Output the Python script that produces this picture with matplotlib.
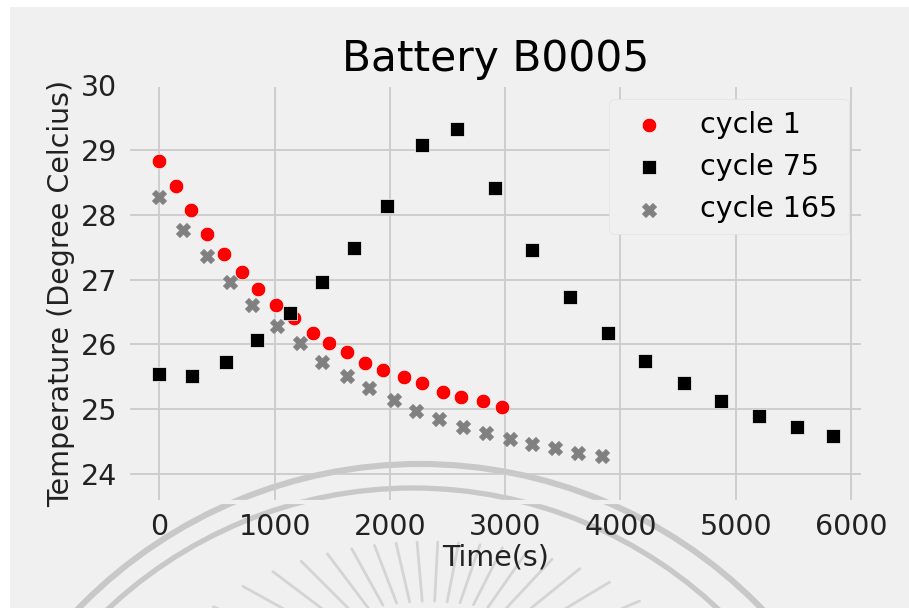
import numpy as np
import matplotlib
matplotlib.use("Agg")
import matplotlib.pyplot as plt
from matplotlib.patches import Arc, Rectangle

# temperature readings of battery B0005 for three discharge cycles
time_c1 = [0, 142, 272, 416, 561, 720, 853, 1012, 1166, 1333,
           1469, 1624, 1781, 1940, 2121, 2277, 2461, 2620, 2805, 2972]
temp_c1 = [28.83, 28.45, 28.08, 27.70, 27.39, 27.12, 26.86, 26.60, 26.41, 26.18,
           26.02, 25.88, 25.72, 25.61, 25.49, 25.40, 25.27, 25.19, 25.13, 25.04]

time_c75 = [0, 286, 574, 848, 1137, 1411, 1686, 1974, 2277, 2580,
            2909, 3235, 3561, 3890, 4216, 4548, 4874, 5206, 5532, 5847]
temp_c75 = [25.55, 25.52, 25.73, 26.07, 26.48, 26.97, 27.48, 28.13, 29.08, 29.32,
            28.41, 27.45, 26.73, 26.17, 25.75, 25.40, 25.12, 24.89, 24.73, 24.59]

time_c165 = [0, 205, 416, 609, 805, 1019, 1216, 1411, 1625, 1821,
             2032, 2225, 2422, 2632, 2831, 3039, 3229, 3431, 3628, 3842]
temp_c165 = [28.27, 27.77, 27.36, 26.97, 26.60, 26.29, 26.02, 25.73, 25.52, 25.33,
             25.15, 24.98, 24.85, 24.73, 24.64, 24.54, 24.47, 24.40, 24.33, 24.28]

plt.style.use("fivethirtyeight")
plt.rcParams["font.family"] = ["DejaVu Sans"]

W, H = 909, 608
fig = plt.figure(figsize=(W / 100, H / 100), dpi=100, facecolor="white")
fig.patches.append(Rectangle((10 / W, 0), 1, 1 - 7 / H, transform=fig.transFigure,
                             facecolor="#f0f0f0", edgecolor="none", zorder=-10))

# faint logo stamped behind the plot
wm = fig.add_axes([0, 0, 1, 1], zorder=0)
wm.set_xlim(0, W)
wm.set_ylim(H, 0)
wm.axis("off")
wm.patch.set_visible(False)
wm_col = "#c8c8c8"
wm.add_patch(Arc((420, 940), 2 * 476, 2 * 476, theta1=180, theta2=360,
                 color=wm_col, lw=4.4))
wm.add_patch(Arc((413, 933), 2 * 445, 2 * 445, theta1=180, theta2=360,
                 color=wm_col, lw=3.8))
cx, cy = 430, 690
for ang in np.arange(23, 160, 8):
    t = np.deg2rad(ang)
    ex, ey = np.cos(t), -np.sin(t)
    r_out = 1 / np.sqrt((ex / 262) ** 2 + (ey / 148) ** 2)
    r_in = r_out * 0.6
    wm.plot([cx + ex * r_in, cx + ex * r_out], [cy + ey * r_in, cy + ey * r_out],
            color="#d4d4d4", lw=2.0, solid_capstyle="round")

ax = fig.add_axes([128 / W, 1 - 502 / H, 735 / W, 417 / H], zorder=1)
ax.patch.set_visible(False)

ax.scatter(time_c1, temp_c1, s=110, marker="o", color="red",
           edgecolors="white", linewidths=0.5, label="cycle 1", zorder=3)
ax.scatter(time_c75, temp_c75, s=110, marker="s", color="black",
           edgecolors="white", linewidths=0.5, label="cycle 75", zorder=3)
ax.scatter(time_c165, temp_c165, s=100, marker="X", color="gray",
           edgecolors="gray", linewidths=0.7, label="cycle 165", zorder=3)

ax.set_xlim(-272, 6104)
ax.set_ylim(23.57, 30.0)
ax.set_xticks([0, 1000, 2000, 3000, 4000, 5000, 6000])
ax.set_yticks([24, 25, 26, 27, 28, 29, 30])
ax.tick_params(labelsize=20.5, colors="#222222", pad=8)
ax.grid(True, color="#cbcbcb", lw=1.3)

ax.set_title("Battery B0005", fontsize=30.5, pad=10)
ax.set_xlabel("Time(s)", fontsize=20.5, color="#222222", labelpad=2)
ax.set_ylabel("Temperature (Degree Celcius)", fontsize=20.5, color="#222222",
              labelpad=4)

ax.legend(loc="upper right", fontsize=20.5, frameon=True, facecolor="#f0f0f0",
          edgecolor="#e2e2e2", framealpha=1)

fig.savefig("out.png", dpi=100, facecolor="white")
